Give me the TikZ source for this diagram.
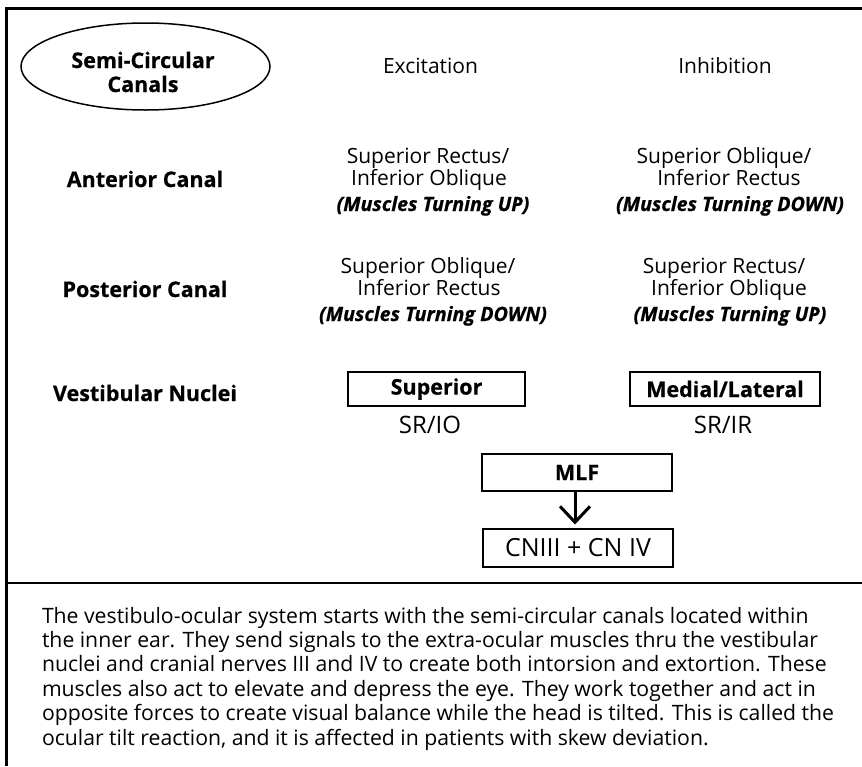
\documentclass[tikz,border=0pt]{standalone}
\usepackage{fontspec}
\setmainfont{Open Sans}[BoldFeatures={FakeBold=0.6},BoldItalicFeatures={FakeBold=0.6}]
\usetikzlibrary{arrows.meta,shapes.geometric}

\begin{document}
\begin{tikzpicture}[x=1pt,y=-1pt,
  every node/.style={inner sep=0pt, outer sep=0pt},
  txt/.style={font=\fontsize{21}{22}\selectfont, anchor=base},
  rowhead/.style={font=\fontsize{21.5}{22}\selectfont\bfseries, anchor=base},
  note/.style={font=\fontsize{19.7}{22}\selectfont\bfseries\itshape, anchor=base},
  code/.style={font=\fontsize{24}{28}\selectfont, anchor=base},
  box/.style={draw, line width=2pt, font=\fontsize{21.5}{22}\selectfont\bfseries},
  frame/.style={line width=3pt},
  rule/.style={line width=2pt}
]
\useasboundingbox (0,0) rectangle (862,766);

% outer frame and divider
\coordinate (tl) at (6.5,8.5);
\coordinate (tr) at (862,8.5);
\coordinate (bl) at (6.5,766);
\coordinate (dl) at (6.5,583);
\coordinate (dr) at (862,583);
\draw[frame] (tr) -- (tl) -- (bl);
\draw[rule] (dl) -- (dr);

% title ellipse
\node (canals) [ellipse, draw, line width=1.5pt, minimum width=249, minimum height=87] at (145.5,66.5) {};
\node (t1) [rowhead] at (143,68) {Semi-Circular};
\node (t2) [rowhead] at (143,92) {Canals};

% column heads
\node (exc) [txt] at (430.5,73) {Excitation};
\node (inh) [txt] at (725,73) {Inhibition};

% row heads
\node (ant) [rowhead] at (145,187) {Anterior Canal};
\node (post) [rowhead] at (145,297) {Posterior Canal};
\node (vest) [rowhead] at (145,401) {Vestibular Nuclei};

% anterior canal
\node (a1) [txt] at (428,163) {Superior Rectus/};
\node (a2) [txt] at (429,185) {Inferior Oblique};
\node (a3) [note] at (433,211) {(Muscles Turning UP)};
\node (b1) [txt] at (724,163) {Superior Oblique/};
\node (b2) [txt] at (729,185) {Inferior Rectus};
\node (b3) [note] at (730,211) {(Muscles Turning DOWN)};

% posterior canal
\node (c1) [txt] at (428,273) {Superior Oblique/};
\node (c2) [txt] at (429,295) {Inferior Rectus};
\node (c3) [note] at (433,321) {(Muscles Turning DOWN)};
\node (d1) [txt] at (724,273) {Superior Rectus/};
\node (d2) [txt] at (729,295) {Inferior Oblique};
\node (d3) [note] at (730,321) {(Muscles Turning UP)};

% vestibular nuclei
\node (sup) [box, minimum width=177, minimum height=34] at (436.5,389) {Superior};
\node (med) [box, minimum width=190, minimum height=34] at (725,389) {Medial/Lateral};
\node (srio) [code] at (430,433) {SR/IO};
\node (srir) [code] at (723,433) {SR/IR};

% MLF to cranial nerves
\node (mlf) [box, minimum width=190, minimum height=37] at (577,472.5) {MLF};
\node (cn) [box, font=\fontsize{25}{28}\selectfont, minimum width=190, minimum height=38] at (578,547.5) {CNIII + CN IV};
\draw[line width=3pt, -{Straight Barb[length=16pt,width=30pt,line width=3pt]}, shorten >=4pt] (mlf.south -| 575,0) -- (cn.north -| 575,0);

% description
\node (para) [anchor=base west, align=left, font=\fontsize{21.2}{24.4}\selectfont] at (42,745) {The vestibulo-ocular system starts with the semi-circular canals located within\\
the inner ear. They send signals to the extra-ocular muscles thru the vestibular\\
nuclei and cranial nerves III and IV to create both intorsion and extortion. These\\
muscles also act to elevate and depress the eye. They work together and act in\\
opposite forces to create visual balance while the head is tilted. This is called the\\
ocular tilt reaction, and it is affected in patients with skew deviation.};
\end{tikzpicture}
\end{document}
